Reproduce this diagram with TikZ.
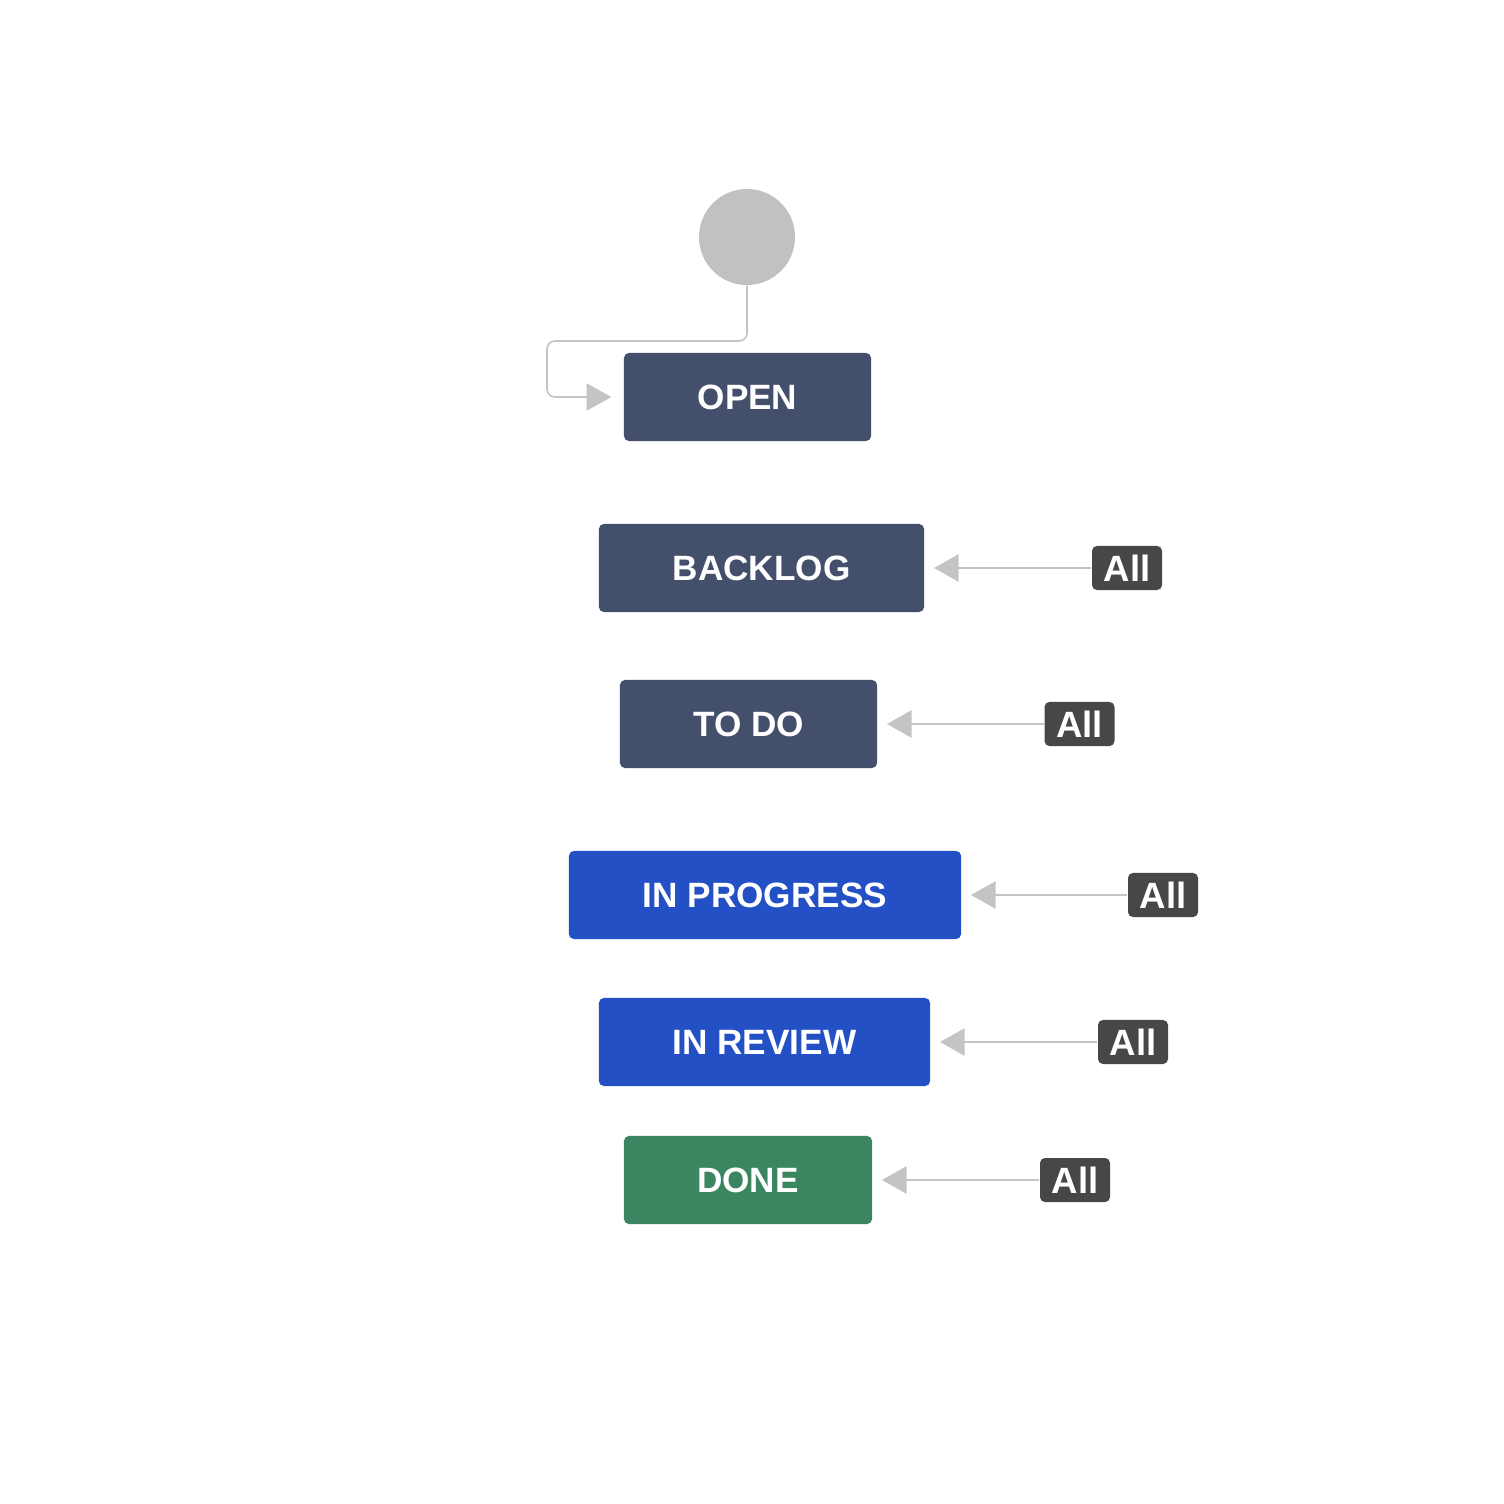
\documentclass[tikz,border=0pt]{standalone}
\usepackage{fontspec}
\setmainfont{Liberation Sans}
\usetikzlibrary{arrows.meta}
\definecolor{darkst}{HTML}{434F6B}
\definecolor{bluest}{HTML}{2351C5}
\definecolor{greenst}{HTML}{3B8660}
\definecolor{badge}{HTML}{474747}
\definecolor{conn}{HTML}{C4C4C4}
\definecolor{startc}{HTML}{C1C1C1}
\begin{document}
\begin{tikzpicture}[x=0.01cm,y=-0.01cm,
  status/.style={rounded corners=5pt*0.2845, minimum height=88*0.2845pt, inner sep=0pt, text=white, font=\fontsize{10}{12}\selectfont\bfseries},
  darkbox/.style={status, fill=darkst},
  bluebox/.style={status, fill=bluest},
  greenbox/.style={status, fill=greenst},
  allbadge/.style={fill=badge, text=white, rounded corners=1.4pt, minimum width=70*0.2845pt, minimum height=44*0.2845pt, inner sep=0pt, font=\fontsize{10.4}{12}\selectfont\bfseries},
  trans/.style={draw=conn, line width=0.6pt, -{Triangle[length=7pt,width=7.7pt]}, shorten >=2.6pt},
]
\useasboundingbox (0,0) rectangle (1504,1504);
\fill[white] (0,0) rectangle (1504,1504);

\node[circle, fill=startc, minimum size=96*0.2845pt, inner sep=0pt] (start) at (747,237) {};

\node[darkbox, minimum width=247*0.2845pt] (open) at (747.5,397) {OPEN};
\node[darkbox, minimum width=325*0.2845pt] (backlog) at (761.5,568) {BACKLOG};
\node[darkbox, minimum width=257*0.2845pt] (todo) at (748.5,724) {TO DO};
\node[bluebox, minimum width=392*0.2845pt] (inprog) at (765,895) {IN PROGRESS};
\node[bluebox, minimum width=331*0.2845pt] (inrev) at (764.5,1042) {IN REVIEW};
\node[greenbox, minimum width=248*0.2845pt] (done) at (748,1180) {DONE};

\node[allbadge] (a1) at (1127,568) {All};
\node[allbadge] (a2) at (1079.5,724) {All};
\node[allbadge] (a3) at (1163,895) {All};
\node[allbadge] (a4) at (1133,1042) {All};
\node[allbadge] (a5) at (1075,1180) {All};

\draw[trans, line width=0.45pt, shorten >=3.4pt, rounded corners=8*0.2845pt] (start.south) |- (547,341) |- (open.west);

\draw[trans] (a1.west) -- (backlog.east);
\draw[trans] (a2.west) -- (todo.east);
\draw[trans] (a3.west) -- (inprog.east);
\draw[trans] (a4.west) -- (inrev.east);
\draw[trans] (a5.west) -- (done.east);
\end{tikzpicture}
\end{document}
